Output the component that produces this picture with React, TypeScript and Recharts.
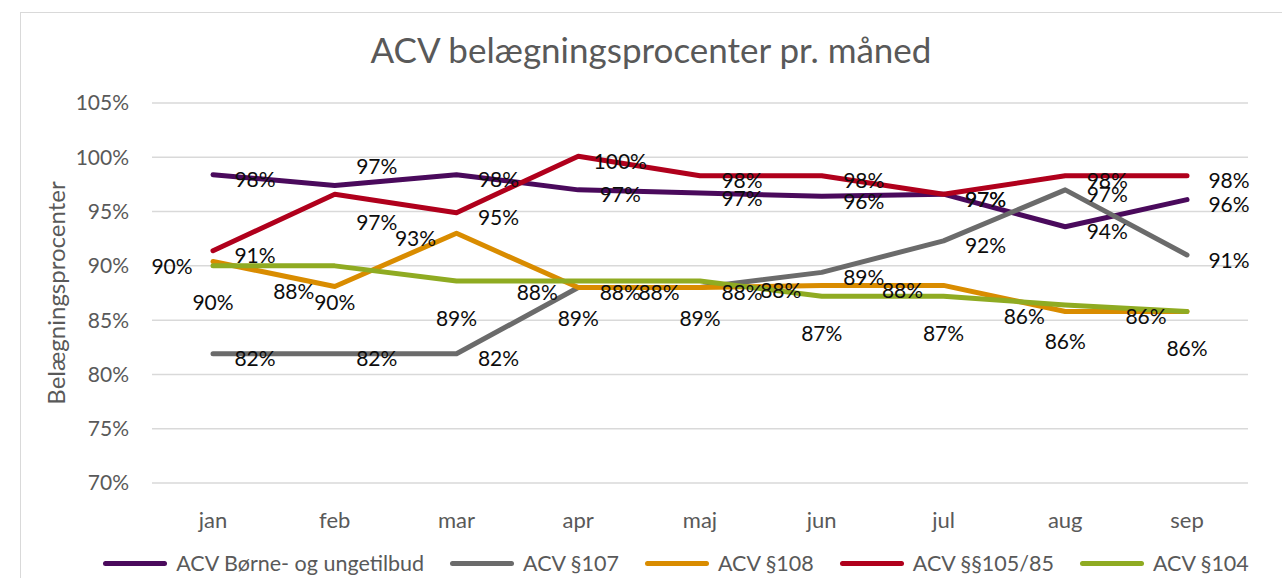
import React from 'react'
import { LineChart, Line, XAxis, YAxis, CartesianGrid, Legend, LabelList } from 'recharts'

const months = ['jan', 'feb', 'mar', 'apr', 'maj', 'jun', 'jul', 'aug', 'sep']
const yTicks = [70, 75, 80, 85, 90, 95, 100, 105]

const boerne = [98.4, 97.4, 98.4, 97.0, 96.7, 96.4, 96.6, 93.6, 96.1]
const p107 = [81.9, 81.9, 81.9, 88.0, 88.0, 89.4, 92.3, 97.0, 91.0]
const p108 = [90.4, 88.1, 93.0, 88.0, 88.0, 88.2, 88.2, 85.8, 85.8]
const p105 = [91.4, 96.6, 94.9, 100.1, 98.3, 98.3, 96.6, 98.3, 98.3]
const p104 = [90.0, 90.0, 88.6, 88.6, 88.6, 87.2, 87.2, 86.4, 85.8]

const series = [
  { key: 'boerne', name: 'ACV Børne- og ungetilbud', color: '#4a0a5c', pos: 'right' },
  { key: 'p107', name: 'ACV §107', color: '#6b6b6b', pos: 'right' },
  { key: 'p108', name: 'ACV §108', color: '#d98c00', pos: 'left' },
  { key: 'p105', name: 'ACV §§105/85', color: '#b0001c', pos: 'right' },
  { key: 'p104', name: 'ACV §104', color: '#8fab22', pos: 'below' },
]

const data = months.map((m, i) => ({
  month: m,
  boerne: boerne[i],
  p107: p107[i],
  p108: p108[i],
  p105: p105[i],
  p104: p104[i],
}))

const FONT = 'Lato, "Open Sans", sans-serif'
const GREY_TEXT = '#595959'
const LEGEND_H = 26

// feb labels were nudged apart in the original
const nudge: Record<string, Record<number, number>> = {
  boerne: { 1: -24 },
  p105: { 1: 23 },
}

function makeLabel(key: string, pos: string) {
  return (props: any) => {
    const { x, y, value, index } = props
    let dx = 0
    let dy = 4
    if (pos === 'right') dx = 42
    if (pos === 'left') dx = -41
    if (pos === 'below') dy = 36
    dy += nudge[key]?.[index] ?? 0
    return (
      <text
        x={x + dx}
        y={y + dy}
        textAnchor="middle"
        dominantBaseline="central"
        fontFamily={FONT}
        fontSize={21}
        fill="#0d0d0d"
      >
        {Math.round(value)}%
      </text>
    )
  }
}

function renderLegend() {
  return (
    <div style={{ height: LEGEND_H, display: 'flex', alignItems: 'center', justifyContent: 'center', paddingLeft: 70, fontFamily: FONT, fontSize: 21.5, color: GREY_TEXT }}>
      {series.map((s, i) => (
        <div key={s.key} style={{ display: 'flex', alignItems: 'center', marginRight: i < series.length - 1 ? 26 : 0 }}>
          <span style={{ display: 'inline-block', width: 64, height: 5, borderRadius: 3, background: s.color, marginRight: 9 }} />
          <span>{s.name}</span>
        </div>
      ))}
    </div>
  )
}

export default function App() {
  return (
    <div style={{ position: 'absolute', left: 0, top: 0, width: 1282, height: 578, overflow: 'hidden', background: '#fff' }}>
      <div style={{ position: 'absolute', left: 20, top: 12, width: 1400, height: 700, border: '1.5px solid #d9d9d9' }} />
      <div style={{ position: 'absolute', left: 0, top: 28, width: 1302, textAlign: 'center', fontFamily: FONT, fontSize: 35, color: GREY_TEXT }}>
        ACV belægningsprocenter pr. måned
      </div>
      <LineChart width={1282} height={578} data={data} margin={{ top: 103, right: 34, bottom: 0, left: 0 }} style={{ position: 'absolute', left: 0, top: 0 }}>
        <CartesianGrid vertical={false} stroke="#d9d9d9" strokeWidth={1.5} />
        <XAxis
          dataKey="month"
          axisLine={false}
          tickLine={false}
          tickSize={0}
          tickMargin={29}
          padding={{ left: 61, right: 61 }}
          tick={{ fill: GREY_TEXT, fontSize: 22, fontFamily: FONT }}
          height={95 - LEGEND_H}
        />
        <YAxis
          domain={[70, 105]}
          ticks={yTicks}
          width={152}
          axisLine={false}
          tickLine={false}
          tickSize={0}
          tickMargin={23}
          tickFormatter={v => `${v}%`}
          tick={{ fill: GREY_TEXT, fontSize: 21, fontFamily: FONT }}
          label={{
            content: () => (
              <text x={55} y={293} transform="rotate(-90 55 293)" textAnchor="middle" dominantBaseline="central" fontFamily={FONT} fontSize={24} fill={GREY_TEXT}>
                Belægningsprocenter
              </text>
            ),
          }}
        />
        <Legend content={renderLegend} verticalAlign="bottom" wrapperStyle={{ left: 0, width: 1282, bottom: 2 }} />
        {series.map(s => (
          <Line
            key={s.key}
            dataKey={s.key}
            name={s.name}
            stroke={s.color}
            strokeWidth={5}
            strokeLinecap="round"
            strokeLinejoin="round"
            dot={false}
            isAnimationActive={false}
          >
            <LabelList dataKey={s.key} content={makeLabel(s.key, s.pos)} />
          </Line>
        ))}
      </LineChart>
    </div>
  )
}
